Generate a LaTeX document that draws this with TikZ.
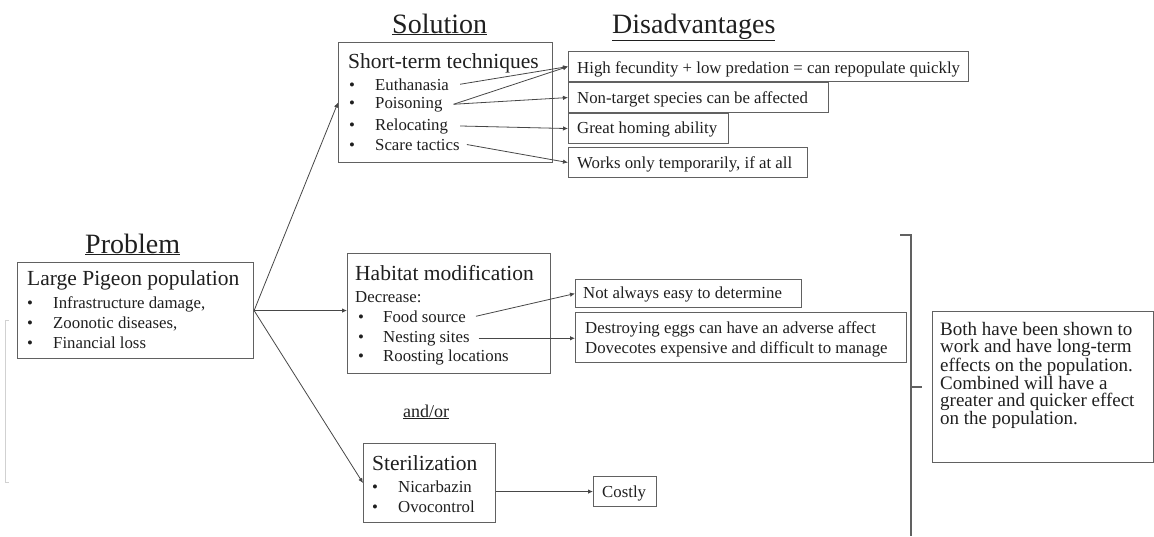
\documentclass[tikz,border=0pt]{standalone}
\usepackage{fontspec}
\setmainfont{Liberation Serif}
\usetikzlibrary{arrows.meta,calc}
\newcommand\headfont{\fontsize{28}{30}\selectfont}
\newcommand\titfont{\fontsize{21.5}{24}\selectfont}
\newcommand\itemfont{\fontsize{16.8}{20}\selectfont}
\newcommand\disfont{\fontsize{16.8}{20}\selectfont}
\newcommand\finfont{\fontsize{19}{17.2}\selectfont}
\newcommand\bul[1]{\makebox[#1][l]{•}}
\tikzset{
  box/.style={draw=black!62, line width=1.1pt, inner sep=0pt, anchor=north west},
  conn/.style={draw=black!72, line width=0.8pt, -{Latex[length=5pt,width=4.5pt]}},
  txt/.style={inner sep=0pt, anchor=base west, text=black!88},
  head/.style={txt, font=\headfont},
  tit/.style={txt, font=\titfont},
  itm/.style={txt, font=\itemfont},
  dis/.style={txt, font=\disfont},
}
\begin{document}
\begin{tikzpicture}[x=1pt,y=-1pt]
\useasboundingbox (0,0) rectangle (1154,536);
% headings
\node[head] (hprob) at (85,253) {\underline{Problem}};
\node[head] (hsol) at (392,33) {\underline{Solution}};
\node[head] (hdis) at (612,33) {\underline{Disadvantages}};
% faint left bracket
\draw[black!18, line width=0.9pt] (9,320) -- (5,320) -- (5,482) -- (9,482);
% problem
\node[box, minimum width=236pt, minimum height=96pt] (prob) at (17,262) {};
\node[tit] (probt) at (27,285) {Large Pigeon population};
\node[itm] (p1) at (27,308) {\bul{26pt}Infrastructure damage,};
\node[itm] (p2) at (27,328) {\bul{26pt}Zoonotic diseases,};
\node[itm] (p3) at (27,348) {\bul{26pt}Financial loss};
% short-term
\node[box, minimum width=214pt, minimum height=120pt] (short) at (338,42) {};
\node[tit] (shortt) at (348,68) {Short-term techniques};
\node[itm] (s1) at (349,90) {\bul{26pt}Euthanasia};
\node[itm] (s2) at (349,108) {\bul{26pt}Poisoning};
\node[itm] (s3) at (349,130) {\bul{26pt}Relocating};
\node[itm] (s4) at (349,150) {\bul{26pt}Scare tactics};
% disadvantages
\node[box, minimum width=400pt, minimum height=30pt] (d1) at (568,51) {};
\node[dis] (d1t) at (577,73) {High fecundity + low predation = can repopulate quickly};
\node[box, minimum width=260pt, minimum height=30pt] (d2) at (568,82) {};
\node[dis] (d2t) at (577,103) {Non-target species can be affected};
\node[box, minimum width=160pt, minimum height=30pt] (d3) at (568,113) {};
\node[dis] (d3t) at (577,133) {Great homing ability};
\node[box, minimum width=239pt, minimum height=30pt] (d4) at (568,147) {};
\node[dis] (d4t) at (577,168) {Works only temporarily, if at all};
% habitat
\node[box, minimum width=203pt, minimum height=120pt] (hab) at (347,253) {};
\node[tit] (habt) at (355,280) {Habitat modification};
\node[itm] (habd) at (355,302) {Decrease:};
\node[itm] (h1) at (358,322) {\bul{25pt}Food source};
\node[itm] (h2) at (358,342) {\bul{25pt}Nesting sites};
\node[itm] (h3) at (358,361) {\bul{25pt}Roosting locations};
\node[box, minimum width=226pt, minimum height=28pt] (n1) at (575,279) {};
\node[dis] (n1t) at (583,298) {Not always easy to determine};
\node[box, minimum width=331pt, minimum height=50pt] (n2) at (575,312) {};
\node[dis] (n2a) at (585,333) {Destroying eggs can have an adverse affect};
\node[dis] (n2b) at (585,353) {Dovecotes expensive and difficult to manage};
% and/or
\node[txt, font=\fontsize{18}{20}\selectfont] (andor) at (403,417) {\underline{and/or}};
% sterilization
\node[box, minimum width=132pt, minimum height=79pt] (steril) at (363,443) {};
\node[tit] (sterilt) at (372,470) {Sterilization};
\node[itm] (st1) at (372,492) {\bul{26pt}Nicarbazin};
\node[itm] (st2) at (372,512) {\bul{26pt}Ovocontrol};
\node[box, minimum width=63pt, minimum height=30pt] (costly) at (593,476) {};
\node[dis] (costt) at (602,497) {Costly};
% bracket
\coordinate (brtop) at (900,235);
\coordinate (brbot) at (911,536);
\coordinate (brmid) at (911,387);
\draw[black!62, line width=1.1pt] (brtop) -- (brtop -| brbot) -- (brbot);
\draw[black!62, line width=1.1pt] (brmid) -- ++(11,0);
% final
\node[box, minimum width=221pt, minimum height=151pt] (fin) at (932,311) {};
\node[txt, anchor=north west, align=left, font=\finfont] (fint) at (940,322)
  {Both have been shown to\\work and have long-term\\effects on the population.\\Combined will have a\\greater and quicker effect\\on the population.};
% connectors
\draw[conn] (prob.east) -- (short.west);
\draw[conn] (prob.east) -- (prob.east -| hab.west);
\draw[conn] (prob.east) -- (steril.west);
\draw[conn] ($(s1.east)+(11,0)$) -- (d1.west);
\draw[conn] ($(s2.east)+(11,0)$) -- (d1.west);
\draw[conn] ($(s2.east)+(11,0)$) -- (d2.west);
\draw[conn] ($(s3.east)+(12,0)$) -- (d3.west);
\draw[conn] ($(s4.east)+(7,0)$) -- (d4.west);
\draw[conn] ($(h1.east)+(10,0)$) -- (n1.west);
\draw[conn] ($(h2.east)+(9,0)$) -- (h2.east -| n2.west);
\draw[conn] (costly.west -| steril.east) -- (costly.west);
\end{tikzpicture}
\end{document}
